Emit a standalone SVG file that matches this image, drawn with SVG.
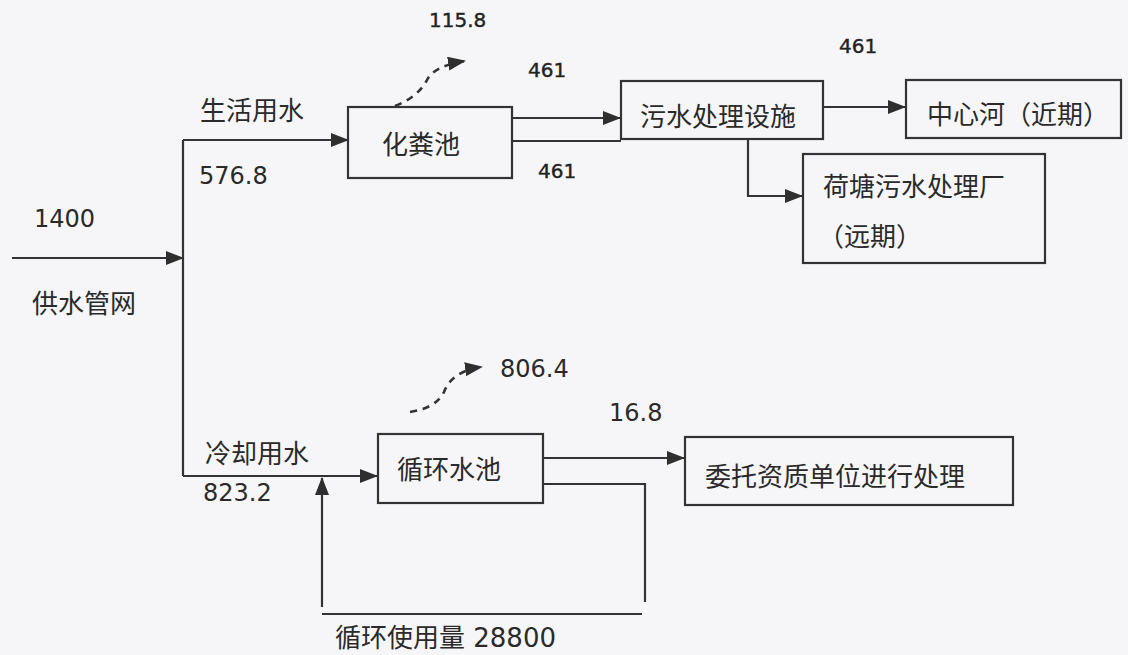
<svg xmlns="http://www.w3.org/2000/svg" width="1128" height="655" viewBox="0 0 1128 655">
<style>
.box{fill:none;stroke:#333;stroke-width:2.2}
.ln{fill:none;stroke:#333;stroke-width:2.2}
.arr{marker-end:url(#ah)}
.dash{fill:none;stroke:#333;stroke-width:2.6;stroke-dasharray:7,6;marker-end:url(#ah)}
.cn{font-family:"Noto Sans CJK SC","DejaVu Sans",sans-serif;font-size:26px;fill:#2a2a2a}
.mix{font-family:"DejaVu Sans","Noto Sans CJK SC",sans-serif;font-size:26px;fill:#2a2a2a}
.num{font-family:"DejaVu Sans",sans-serif;font-size:24px;fill:#2a2a2a}
.sm{font-family:"DejaVu Sans",sans-serif;font-size:20px;fill:#222;stroke:#222;stroke-width:0.4}
</style>
<defs>
<marker id="ah" markerUnits="userSpaceOnUse" markerWidth="18" markerHeight="14" refX="17" refY="7" orient="auto">
<path d="M0,0 L18,7 L0,14 z" fill="#2f2f2f"/>
</marker>
</defs>
<rect width="1128" height="655" fill="#f6f6f8"/>

<g id="connectors">
<path class="ln arr" d="M12,258 H183"/>
<path class="ln" d="M183,140 V476"/>
<path class="ln arr" d="M183,140 H348"/>
<path class="ln arr" d="M512,118 H620"/>
<path class="ln" d="M512,141 H621"/>
<path class="ln arr" d="M823,107 H905"/>
<path class="ln arr" d="M748,139 V196 H802"/>
<path class="ln arr" d="M183,476 H377"/>
<path class="ln arr" d="M543,458 H684"/>
<path class="ln" d="M543,484 H645 V602"/>
<path class="ln" d="M322,614 H642"/>
<path class="ln arr" d="M322,607 V478"/>
<path class="dash" d="M395,106 Q418,97 427,80 Q434,66 465,61"/>
<path class="dash" d="M410,412 Q436,408 444,392 Q452,371 482,367"/>
</g>

<g id="labels">
<text class="num" x="34" y="227">1400</text>
<text class="cn" x="32" y="313">供水管网</text>
<text class="cn" x="200" y="120">生活用水</text>
<text class="num" x="199" y="184">576.8</text>
<text class="sm" x="429" y="27">115.8</text>
<text class="sm" x="528" y="77">461</text>
<text class="sm" x="538" y="178">461</text>
<text class="sm" x="839" y="53">461</text>
<text class="cn" x="205" y="463">冷却用水</text>
<text class="num" x="203" y="501">823.2</text>
<text class="num" x="500" y="377">806.4</text>
<text class="num" x="609" y="421">16.8</text>
<text class="mix" x="335" y="647">循环使用量 28800</text>
</g>

<g id="septic-tank">
<rect class="box" x="348" y="107" width="164" height="71"/>
<text class="cn" x="382" y="154">化粪池</text>
</g>
<g id="sewage-facility">
<rect class="box" x="621" y="81" width="202" height="58"/>
<text class="cn" x="640" y="126">污水处理设施</text>
</g>
<g id="zhongxin-river">
<rect class="box" x="906" y="80" width="215" height="58"/>
<text class="cn" x="927" y="124">中心河（近期）</text>
</g>
<g id="hetang-plant">
<rect class="box" x="803" y="154" width="242" height="109"/>
<text class="cn" x="823" y="196">荷塘污水处理厂</text>
<text class="cn" x="818" y="246">（远期）</text>
</g>
<g id="circulation-pool">
<rect class="box" x="378" y="434" width="165" height="69"/>
<text class="cn" x="397" y="479">循环水池</text>
</g>
<g id="entrusted-unit">
<rect class="box" x="685" y="437" width="328" height="68"/>
<text class="cn" x="705" y="486">委托资质单位进行处理</text>
</g>
</svg>
